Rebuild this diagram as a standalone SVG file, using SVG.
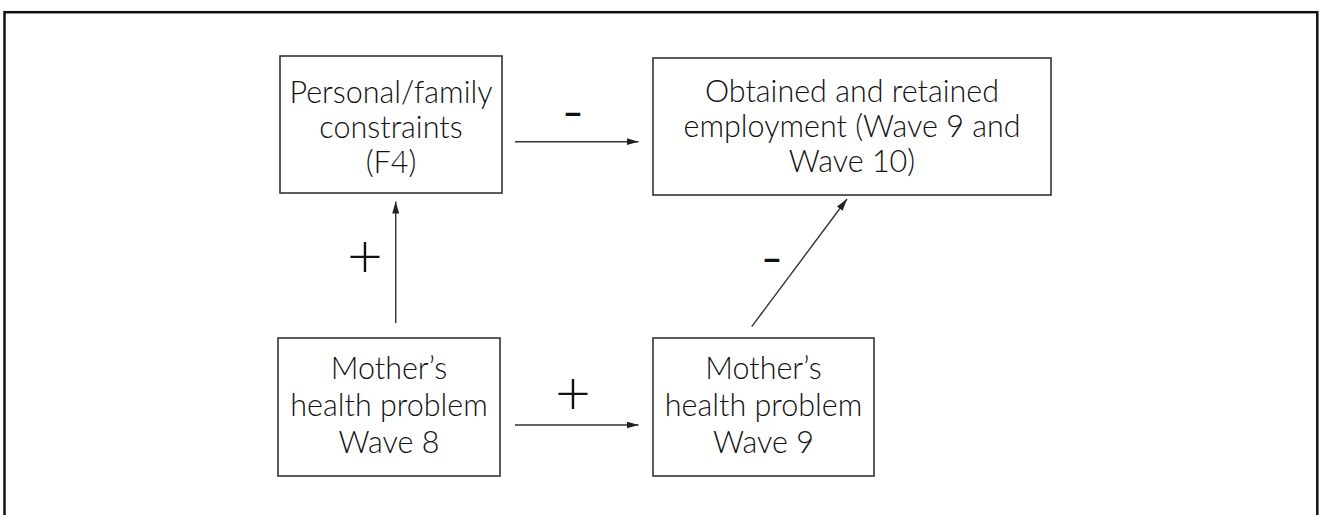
<svg xmlns="http://www.w3.org/2000/svg" width="1320" height="515" viewBox="0 0 1320 515">
<style>
.box{fill:#fff;stroke:#333;stroke-width:1.6}
.t{font-family:"Lato","Open Sans",sans-serif;font-size:30.5px;font-weight:300;fill:#111;text-anchor:middle}
.edge{stroke:#333;stroke-width:1.4;fill:none}
.plus{font-family:"Lato","Open Sans",sans-serif;font-size:62px;font-weight:300;fill:#111;text-anchor:middle}
.minus{font-family:"Lato","Open Sans",sans-serif;font-size:36px;font-weight:bold;fill:#111;text-anchor:middle}
</style>
<defs>
<marker id="ah" markerUnits="userSpaceOnUse" markerWidth="12" markerHeight="8" refX="12" refY="3.5" orient="auto">
<path d="M0,0 L12,3.5 L0,7 z" fill="#222"/>
</marker>
</defs>
<rect x="0" y="0" width="1320" height="515" fill="#fff"/>
<rect x="4.5" y="12.2" width="1312.8" height="530" fill="none" stroke="#111" stroke-width="2.5"/>
<g id="n-constraints">
<rect class="box" x="280" y="56" width="222" height="137"/>
<text class="t" x="391" y="103">Personal/family</text>
<text class="t" x="391" y="138">constraints</text>
<text class="t" x="391" y="173">(F4)</text>
</g>
<g id="n-employment">
<rect class="box" x="653" y="58" width="398" height="137"/>
<text class="t" x="852" y="102">Obtained and retained</text>
<text class="t" x="852" y="137">employment (Wave 9 and</text>
<text class="t" x="852" y="172">Wave 10)</text>
</g>
<g id="n-health8">
<rect class="box" x="278" y="338" width="222" height="138"/>
<text class="t" x="389" y="379">Mother’s</text>
<text class="t" x="389" y="416">health problem</text>
<text class="t" x="389" y="453">Wave 8</text>
</g>
<g id="n-health9">
<rect class="box" x="653" y="338" width="221" height="138"/>
<text class="t" x="763.5" y="379">Mother’s</text>
<text class="t" x="763.5" y="416">health problem</text>
<text class="t" x="763.5" y="453">Wave 9</text>
</g>
<g id="connectors">
<line class="edge" x1="515" y1="141.7" x2="638.5" y2="141.7" marker-end="url(#ah)"/>
<line class="edge" x1="395.7" y1="323" x2="395.7" y2="201.5" marker-end="url(#ah)"/>
<line class="edge" x1="515" y1="425" x2="638.5" y2="425" marker-end="url(#ah)"/>
<line class="edge" x1="751.7" y1="326.7" x2="847" y2="199" marker-end="url(#ah)"/>
<text class="minus" x="573" y="125">–</text>
<text class="plus" x="365" y="277">+</text>
<text class="plus" x="573" y="414">+</text>
<text class="minus" x="772" y="271">–</text>
</g>
</svg>
